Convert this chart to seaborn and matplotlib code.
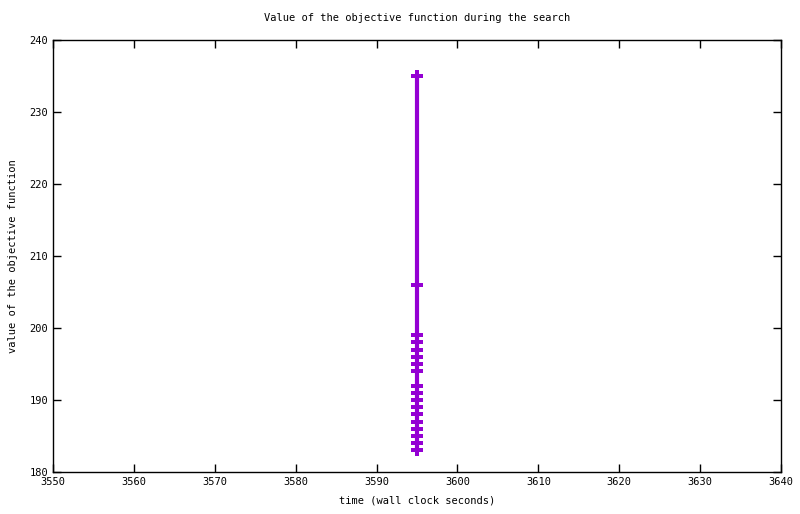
import matplotlib
matplotlib.use("Agg")
import matplotlib.pyplot as plt
import seaborn as sns
import pandas as pd

# values (all points at the same wall-clock time)
times = [3595] * 18
objective = [235, 206, 199, 198, 197, 196, 195, 194, 192, 191, 190, 189,
             188, 187, 186, 185, 184, 183]
x_ticks = [3550, 3560, 3570, 3580, 3590, 3600, 3610, 3620, 3630, 3640]
y_ticks = [180, 190, 200, 210, 220, 230, 240]

df = pd.DataFrame({"time": times, "objective": objective})

sns.set_style("white")
plt.rcParams["font.family"] = ["DejaVu Sans Mono", "DejaVu Sans"]
plt.rcParams["text.color"] = "black"
plt.rcParams["axes.labelcolor"] = "black"
plt.rcParams["xtick.color"] = "black"
plt.rcParams["ytick.color"] = "black"

fig = plt.figure(figsize=(8, 5.14), dpi=100)
ax = fig.add_axes([53 / 800, 42 / 514, 728 / 800, 432 / 514])

sns.lineplot(data=df, x="time", y="objective", ax=ax, color="#9400d3",
             linewidth=3, marker="P", markersize=9, markeredgewidth=0,
             sort=False, estimator=None)

ax.set_xlim(3550, 3640)
ax.set_ylim(180, 240)
ax.set_xticks(x_ticks)
ax.set_yticks(y_ticks)
ax.tick_params(direction="in", length=6, width=1, labelsize=7.5,
               top=True, right=True, bottom=True, left=True,
               color="black", labelcolor="black")
for s in ax.spines.values():
    s.set_color("black")
    s.set_linewidth(1)

ax.set_title("Value of the objective function during the search",
             fontsize=7.5, pad=14, color="black")
ax.set_xlabel("time (wall clock seconds)", fontsize=7.5, labelpad=6)
ax.set_ylabel("value of the objective function", fontsize=7.5, labelpad=8)

fig.savefig("out.png", dpi=100)
